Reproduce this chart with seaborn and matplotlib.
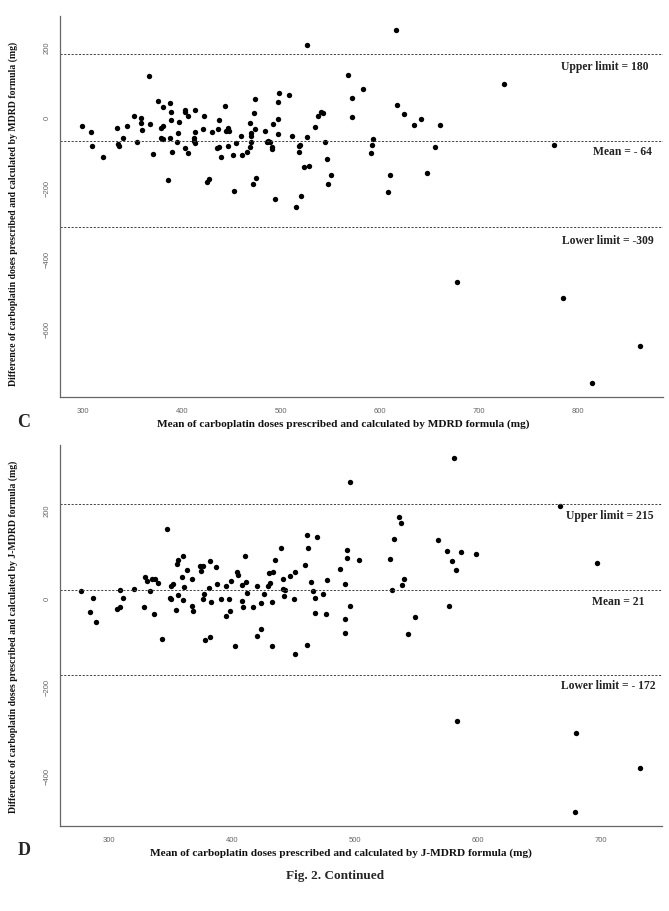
import matplotlib
matplotlib.use("Agg")
import matplotlib.pyplot as plt
import seaborn as sns
import pandas as pd

# Panel C: MDRD formula (mean vs difference, mg)
mdrd_mean = [299, 308, 309, 320, 334, 335, 336, 340, 344, 352, 355, 359, 359, 360,
             367, 368, 371, 376, 381, 379, 381, 379, 381, 386, 388, 389, 389, 388,
             390, 395, 397, 396, 403, 403, 403, 406, 406, 412, 413, 412, 413, 413,
             421, 422, 425, 427, 430, 435, 436, 437, 437, 439, 443, 444, 446, 447,
             448, 452, 453, 455, 460, 461, 466, 469, 470, 470, 470, 469, 472, 474,
             473, 474, 475, 484, 486, 487, 489, 491, 491, 492, 494, 497, 497, 497,
             498, 526, 616, 568, 583, 572, 572, 617, 624, 641, 634, 661, 656, 648,
             610, 608, 593, 592, 591, 508, 511, 518, 519, 518, 526, 523, 528, 534,
             537, 540, 542, 544, 547, 551, 548, 520, 515, 678, 725, 776, 785, 814,
             863]
mdrd_diff = [-23, -39, -79, -112, -28, -74, -79, -56, -23, 6, -69, 1, -14, -33,
             120, -16, -102, 49, 30, -29, -24, -56, -60, -177, 43, 17, -7, -56,
             -96, -69, -11, -42, 23, 17, -86, -100, 5, -57, 22, -64, -72, -39,
             -31, 5, -182, -173, -41, -86, -32, -5, -81, -110, 33, -38, -79, -29,
             -36, -105, -207, -72, -52, -106, -96, -13, -42, -50, -67, -81, -188, 53,
             14, -30, -170, -38, -69, -66, -68, -87, -81, -18, -230, 46, -2, -45,
             70, 208, 249, 123, 82, 58, 3, 36, 11, -2, -21, -21, -82, -157,
             -161, -211, -60, -76, -100, 64, -52, -79, -78, -97, -54, -139, -135, -26,
             6, 18, 13, -69, -116, -163, -187, -220, -251, -466, 97, -76, -511, -751,
             -647]
mdrd_limits = [180, -64, -309]
mdrd_limit_text = ["Upper limit = 180", "Mean = - 64", "Lower limit = -309"]

# Panel D: J-MDRD formula
jmdrd_mean = [277, 284, 287, 289, 306, 309, 309, 311, 320, 328, 329, 331, 333, 335,
              336, 337, 340, 343, 347, 349, 350, 350, 352, 354, 355, 356, 356, 359,
              360, 360, 361, 363, 367, 367, 368, 374, 375, 376, 376, 377, 378, 381,
              382, 382, 383, 387, 388, 391, 395, 395, 397, 398, 399, 402, 404, 405,
              408, 408, 409, 410, 411, 412, 417, 420, 420, 423, 423, 426, 429, 430,
              431, 432, 432, 433, 435, 440, 580, 496, 536, 537, 532, 567, 575, 586,
              579, 582, 576, 461, 469, 462, 441, 447, 451, 459, 441, 443, 442, 450,
              464, 466, 467, 474, 477, 467, 476, 488, 493, 493, 503, 492, 496, 492,
              492, 528, 530, 538, 540, 549, 543, 667, 598, 697, 680, 732, 679, 451,
              461, 583]
jmdrd_diff = [19, -29, 4, -52, -22, -18, 20, 2, 23, -18, 50, 41, 19, 47,
              -33, 46, 38, -90, 159, 3, 1, 29, 34, -25, 79, 90, 9, 51,
              98, -1, 27, 66, -14, 47, -27, 76, 65, 76, 0, 12, -92, 26,
              86, -84, -5, 74, 35, 0, -38, 29, 0, -26, 41, -105, 61, 56,
              32, -3, -18, 99, 40, 15, -18, -83, 29, -66, -8, 11, 31, 60,
              38, -105, -7, 61, 90, 117, 319, 266, 187, 173, 136, 134, 109, 107,
              87, 66, -14, 145, 140, 116, 47, 53, 61, 77, 23, 22, 8, 0,
              40, 19, 4, 11, 43, -30, -34, 69, 111, 93, 88, 35, -14, -45,
              -75, 91, 20, 33, 46, -39, -78, 212, 103, 83, -301, -382, -480, -124,
              -103, -276]
jmdrd_limits = [215, 21, -172]
jmdrd_limit_text = ["Upper limit = 215", "Mean = 21", "Lower limit = - 172"]

sns.set_style("white")
plt.rcParams['font.family'] = ['Liberation Serif', 'DejaVu Serif']

fig = plt.figure(figsize=(6.69, 9.11), dpi=100)
ax_c = fig.add_axes([0.0897, 0.5642, 0.9013, 0.4182])
ax_d = fig.add_axes([0.0897, 0.0936, 0.9000, 0.4179])

panels = [
    (ax_c, mdrd_mean, mdrd_diff, mdrd_limits, mdrd_limit_text,
     (276.8, 885.9), (-791, 289), [300, 400, 500, 600, 700, 800], [-600, -400, -200, 0, 200],
     [(827, 145), (845, -96), (830, -349)],
     "Mean of carboplatin doses prescribed and calculated by MDRD formula (mg)",
     "Difference of carboplatin doses prescribed and calculated by MDRD formula (mg)",
     (0.469, 0.480)),
    (ax_d, jmdrd_mean, jmdrd_diff, jmdrd_limits, jmdrd_limit_text,
     (259.9, 749.7), (-511.6, 348.7), [300, 400, 500, 600, 700], [-400, -200, 0, 200],
     [(707, 188), (714, -6), (706, -195)],
     "Mean of carboplatin doses prescribed and calculated by J-MDRD formula (mg)",
     "Difference of carboplatin doses prescribed and calculated by J-MDRD formula (mg)",
     (0.467, 0.497)),
]

for ax, xs, ys, lims, texts, xlim, ylim, xt, yt, tpos, xlab, ylab, lab_pos in panels:
    df = pd.DataFrame({'mean': xs, 'diff': ys})
    sns.scatterplot(data=df, x='mean', y='diff', ax=ax, color='black', s=15,
                    linewidth=0, legend=False)
    for val, txt, (tx, ty) in zip(lims, texts, tpos):
        ax.axhline(val, color='#444444', linewidth=0.7, linestyle=(0, (2.2, 1.6)))
        ax.text(tx, ty, txt, ha='center', va='center', fontsize=8.4,
                fontweight='bold', color='#222222')
    ax.set_xlim(*xlim)
    ax.set_ylim(*ylim)
    ax.set_xticks(xt)
    ax.set_yticks(yt)
    for side in ['top', 'right']:
        ax.spines[side].set_visible(False)
    for side in ['left', 'bottom']:
        ax.spines[side].set_color('#666666')
        ax.spines[side].set_linewidth(0.9)
    ax.tick_params(direction='out', length=3, width=0.6, colors='#777777',
                   labelsize=5.5)
    ax.tick_params(axis='x', pad=5)
    ax.tick_params(axis='y', pad=4, labelrotation=90)
    for lab in ax.get_xticklabels() + ax.get_yticklabels():
        lab.set_family('Liberation Sans')
        lab.set_color('#666666')
    for lab in ax.get_yticklabels():
        lab.set_va('center')
    ax.set_xlabel(xlab, fontsize=8.1, fontweight='bold', color='#111111')
    ax.set_ylabel(ylab, fontsize=7.0, fontweight='bold', color='#111111')
    ax.xaxis.set_label_coords(lab_pos[0], -0.0709)
    ax.xaxis.label.set_va('center')
    ax.yaxis.set_label_coords(-0.0779, lab_pos[1])
    ax.yaxis.label.set_va('center')

fig.text(0.0359, 0.5357, "C", fontsize=13, fontweight='bold', ha='center', va='center')
fig.text(0.0359, 0.0659, "D", fontsize=13, fontweight='bold', ha='center', va='center')
fig.text(0.5007, 0.0384, "Fig. 2. Continued", fontsize=9.5, fontweight='bold',
         ha='center', va='center')

plt.savefig("out.png", dpi=100)
plt.close()
